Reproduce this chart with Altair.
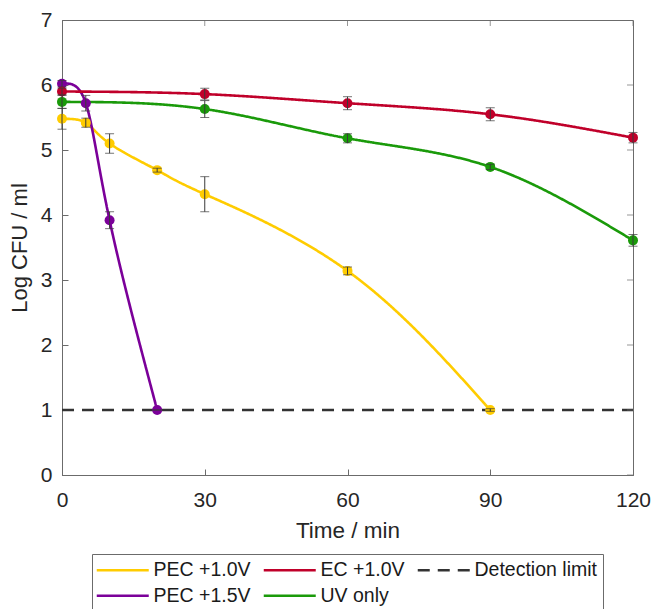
import altair as alt
import pandas as pd

# ---- data ----
series_names = ["PEC +1.0V", "PEC +1.5V", "EC +1.0V", "UV only", "Detection limit"]
series_colors = ["#FFCC00", "#7B0099", "#C0002A", "#1A9A0A", "#333333"]

t_pec10 = [0, 5, 10, 20, 30, 60, 90]
y_pec10 = [5.48, 5.42, 5.10, 4.69, 4.32, 3.14, 1.0]
e_pec10 = [0.16, 0.07, 0.15, 0.03, 0.27, 0.06, 0.02]

t_pec15 = [0, 5, 10, 20]
y_pec15 = [6.02, 5.72, 3.92, 1.0]
e_pec15 = [0.05, 0.12, 0.13, 0.0]

t_ec10 = [0, 30, 60, 90, 120]
y_ec10 = [5.90, 5.86, 5.72, 5.55, 5.19]
e_ec10 = [0.05, 0.09, 0.10, 0.10, 0.08]

t_uv = [0, 30, 60, 90, 120]
y_uv = [5.74, 5.63, 5.18, 4.74, 3.61]
e_uv = [0.10, 0.13, 0.07, 0.04, 0.09]

t_det = [0, 120]
y_det = [1.0, 1.0]

x_ticks = [0, 30, 60, 90, 120]
y_ticks = [0, 1, 2, 3, 4, 5, 6, 7]
x_max = 120
y_max = 7

rows = []
for name, ts, ys_, es in [("PEC +1.0V", t_pec10, y_pec10, e_pec10),
                          ("PEC +1.5V", t_pec15, y_pec15, e_pec15),
                          ("EC +1.0V", t_ec10, y_ec10, e_ec10),
                          ("UV only", t_uv, y_uv, e_uv)]:
    for t, y, e in zip(ts, ys_, es):
        rows.append({"series": name, "t": t, "y": y, "lo": y - e, "hi": y + e})
df = pd.DataFrame(rows)
df_det = pd.DataFrame({"series": "Detection limit", "t": t_det, "y": y_det})
df_lines = pd.concat([df[["series", "t", "y"]], df_det], ignore_index=True)
df_top = pd.DataFrame({"t": x_ticks, "y": [y_max] * len(x_ticks)})
df_right = pd.DataFrame({"t": [x_max] * len(y_ticks), "y": y_ticks})

W, H = 571, 455
FONT = "Liberation Sans"
AX = "#6b6b6b"
INWARD = alt.ExprRef("-6")

xs = alt.Scale(domain=[0, x_max], nice=False, zero=False)
ys = alt.Scale(domain=[0, y_max], nice=False, zero=False)
color_scale = alt.Scale(domain=series_names, range=series_colors)
dash_scale = alt.Scale(domain=series_names,
                       range=[[1, 0], [1, 0], [1, 0], [1, 0], [12, 8]])

legend = alt.Legend(
    title=None, orient="none", legendX=30, legendY=534, columns=3,
    symbolType="M-5.2,0H5.2", symbolSize=100, symbolStrokeWidth=2.5,
    symbolOffset=15, labelOffset=21,
    labelFont=FONT, labelFontSize=19.5, labelColor="#1a1a1a", labelLimit=300,
    strokeColor=AX, padding=6, rowPadding=5, columnPadding=7,
    fillColor="white",
)

main_x = alt.Axis(values=x_ticks, title="Time / min", tickSize=INWARD, grid=False,
                  format="d",
                  tickColor=AX, labelFontSize=21, titleFontSize=22.5, labelPadding=20,
                  titlePadding=9, labelFont=FONT, titleFont=FONT,
                  labelColor="#262626", titleColor="#262626", labelFlush=False,
                  domainColor=AX, titleFontWeight="normal")
main_y = alt.Axis(values=y_ticks, title="Log CFU / ml", tickSize=INWARD, grid=False,
                  format="d",
                  tickColor=AX, labelFontSize=21, titleFontSize=22, labelPadding=16,
                  titlePadding=9, labelFont=FONT, titleFont=FONT,
                  labelColor="#262626", titleColor="#262626", labelFlush=False,
                  domainColor=AX, titleFontWeight="normal")

lines = alt.Chart(df_lines).mark_line(interpolate="natural", strokeWidth=2.6).encode(
    x=alt.X("t:Q", scale=xs, axis=main_x),
    y=alt.Y("y:Q", scale=ys, axis=main_y),
    color=alt.Color("series:N", scale=color_scale, legend=legend, sort=series_names),
    strokeDash=alt.StrokeDash("series:N", scale=dash_scale, legend=legend, sort=series_names),
    detail="series:N",
)

points = alt.Chart(df).mark_circle(size=100, opacity=1).encode(
    x=alt.X("t:Q", scale=xs, axis=main_x),
    y=alt.Y("y:Q", scale=ys, axis=main_y),
    color=alt.Color("series:N", scale=color_scale, legend=None),
)

bars = alt.Chart(df).mark_rule(color="#3a3a3a", strokeWidth=1).encode(
    x=alt.X("t:Q", scale=xs, axis=main_x),
    y=alt.Y("lo:Q", scale=ys, axis=main_y),
    y2="hi:Q",
)

caps_lo = alt.Chart(df).mark_tick(color="#3a3a3a", orient="horizontal",
                                  size=9, thickness=1).encode(
    x=alt.X("t:Q", scale=xs, axis=main_x),
    y=alt.Y("lo:Q", scale=ys, axis=main_y),
)
caps_hi = alt.Chart(df).mark_tick(color="#3a3a3a", orient="horizontal",
                                  size=9, thickness=1).encode(
    x=alt.X("t:Q", scale=xs, axis=main_x),
    y=alt.Y("hi:Q", scale=ys, axis=main_y),
)

# inward ticks on the top and right frame edges (outer half clipped away)
top_ticks = alt.Chart(df_top).mark_tick(color=AX, orient="vertical", size=12,
                                        thickness=1, clip=True).encode(
    x=alt.X("t:Q", scale=xs, axis=main_x),
    y=alt.Y("y:Q", scale=ys, axis=main_y),
)
right_ticks = alt.Chart(df_right).mark_tick(color=AX, orient="horizontal", size=12,
                                            thickness=1, clip=True).encode(
    x=alt.X("t:Q", scale=xs, axis=main_x),
    y=alt.Y("y:Q", scale=ys, axis=main_y),
)

chart = alt.layer(lines, top_ticks, right_ticks, points, bars, caps_lo, caps_hi).properties(
    width=W, height=H,
    autosize=alt.AutoSizeParams(type="none"),
    padding={"left": 62, "top": 20, "right": 18, "bottom": 134},
    background="white",
).configure_view(stroke=AX, strokeWidth=1)

chart.save("out.html", embed_options={"renderer": "svg", "actions": False})
